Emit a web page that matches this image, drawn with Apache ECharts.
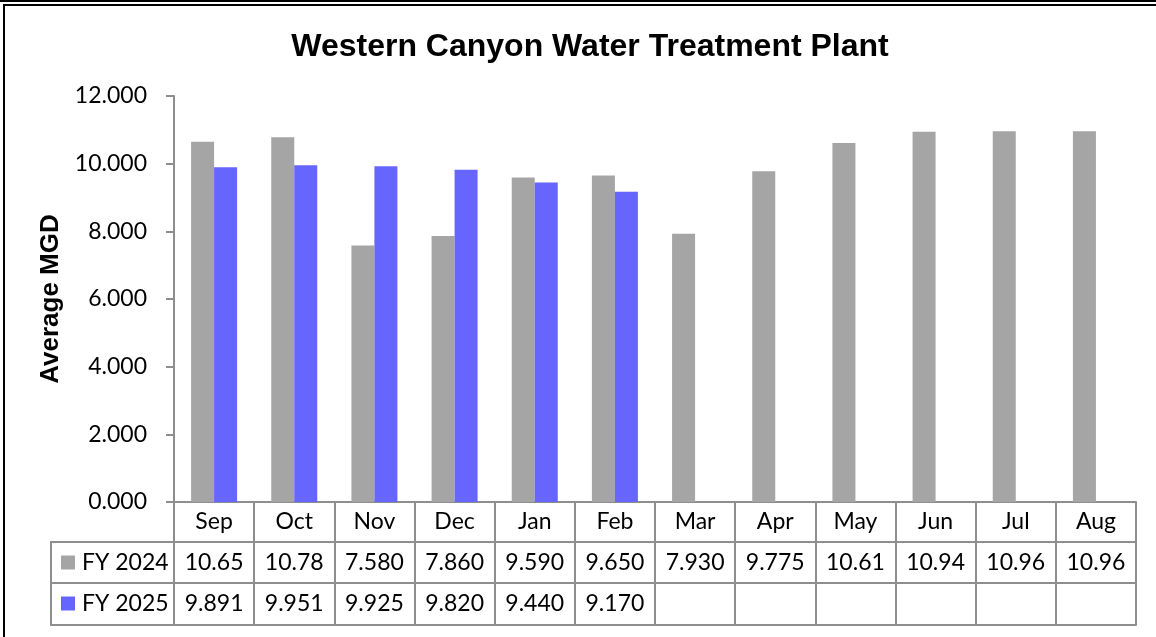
<!DOCTYPE html>
<html>
<head>
<meta charset="utf-8">
<script src="https://cdn.jsdelivr.net/npm/echarts@6/dist/echarts.min.js"></script>
<style>
html,body{margin:0;padding:0;background:#fff;}
#chart{width:1156px;height:637px;}
</style>
</head>
<body>
<div id="chart"></div>
<script>
var months = ['Sep','Oct','Nov','Dec','Jan','Feb','Mar','Apr','May','Jun','Jul','Aug'];
var fy2024 = [10.65, 10.78, 7.580, 7.860, 9.590, 9.650, 7.930, 9.775, 10.61, 10.94, 10.96, 10.96];
var fy2025 = [9.891, 9.951, 9.925, 9.820, 9.440, 9.170, null, null, null, null, null, null];
var fy2024Labels = ['10.65','10.78','7.580','7.860','9.590','9.650','7.930','9.775','10.61','10.94','10.96','10.96'];
var fy2025Labels = ['9.891','9.951','9.925','9.820','9.440','9.170','','','','','',''];
var yTicks = [0, 2, 4, 6, 8, 10, 12];

var LINE = '#8e8e8e';
var TXT = 'Lato';
var FS = 23;

var chart = echarts.init(document.getElementById('chart'));

function rowAxis(offset, labels, tickLen, margin) {
  return {
    type: 'category', gridIndex: 0, position: 'bottom', offset: offset,
    data: months,
    axisLine: {show: true, lineStyle: {color: LINE, width: 2}},
    axisTick: {show: tickLen > 0, length: tickLen, interval: 0, lineStyle: {color: LINE, width: 2}},
    axisLabel: {show: !!labels, interval: 0, margin: margin, color: '#000', fontFamily: TXT, fontSize: FS,
      formatter: function (v, i) { return labels ? labels[i] : ''; }},
    splitLine: {show: false}
  };
}

chart.setOption({
  animation: false,
  backgroundColor: '#fff',
  title: {
    text: 'Western Canyon Water Treatment Plant',
    left: 585, top: 26, textAlign: 'center',
    textStyle: {fontFamily: 'Liberation Sans', fontWeight: 'bold', fontSize: 32, color: '#000'}
  },
  legend: {
    orient: 'vertical', left: 61, top: 551, padding: 0,
    icon: 'rect', itemWidth: 14, itemHeight: 14, itemGap: 18, itemStyle: {borderWidth: 0},
    textStyle: {fontFamily: TXT, fontSize: FS, color: '#000', padding: [0, 0, 0, 2]},
    data: ['FY 2024', 'FY 2025']
  },
  grid: {left: 174, right: 20, top: 96, bottom: 135, containLabel: false},
  xAxis: [
    rowAxis(0, months, 40, 8),
    rowAxis(40, fy2024Labels, 41, 9),
    rowAxis(81, fy2025Labels, 42, 9),
    rowAxis(123, null, 0, 0)
  ],
  yAxis: {
    type: 'value', min: 0, max: 12, interval: 2,
    name: 'Average MGD', nameLocation: 'middle', nameRotate: 90, nameGap: 110,
    nameTextStyle: {fontFamily: 'Liberation Sans', fontWeight: 'bold', fontSize: 26, color: '#000'},
    axisLine: {show: true, lineStyle: {color: LINE, width: 2}},
    axisTick: {show: true, length: 8, lineStyle: {color: LINE, width: 2}},
    axisLabel: {margin: 27, color: '#000', fontFamily: TXT, fontSize: FS,
      formatter: function (v) { return v.toFixed(3); }},
    splitLine: {show: false}
  },
  series: [
    {name: 'FY 2024', type: 'bar', xAxisIndex: 0, data: fy2024, barWidth: 23, barGap: '0%',
      itemStyle: {color: '#a5a5a5'}},
    {name: 'FY 2025', type: 'bar', xAxisIndex: 0, data: fy2025, barWidth: 23, barGap: '0%',
      itemStyle: {color: '#6666ff'}}
  ],
  graphic: [
    {type: 'line', shape: {x1: 0, y1: 1, x2: 1156, y2: 1}, style: {stroke: '#000', lineWidth: 2}},
    {type: 'line', shape: {x1: 3, y1: 5, x2: 1156, y2: 5}, style: {stroke: '#000', lineWidth: 2}},
    {type: 'line', shape: {x1: 4, y1: 5, x2: 4, y2: 637}, style: {stroke: '#000', lineWidth: 2}},
    {type: 'rect', shape: {x: 51, y: 542, width: 123, height: 83}, style: {fill: 'none', stroke: LINE, lineWidth: 2}, z: 10},
    {type: 'line', shape: {x1: 51, y1: 583, x2: 174, y2: 583}, style: {stroke: LINE, lineWidth: 2}, z: 10}
  ]
});
</script>
</body>
</html>
